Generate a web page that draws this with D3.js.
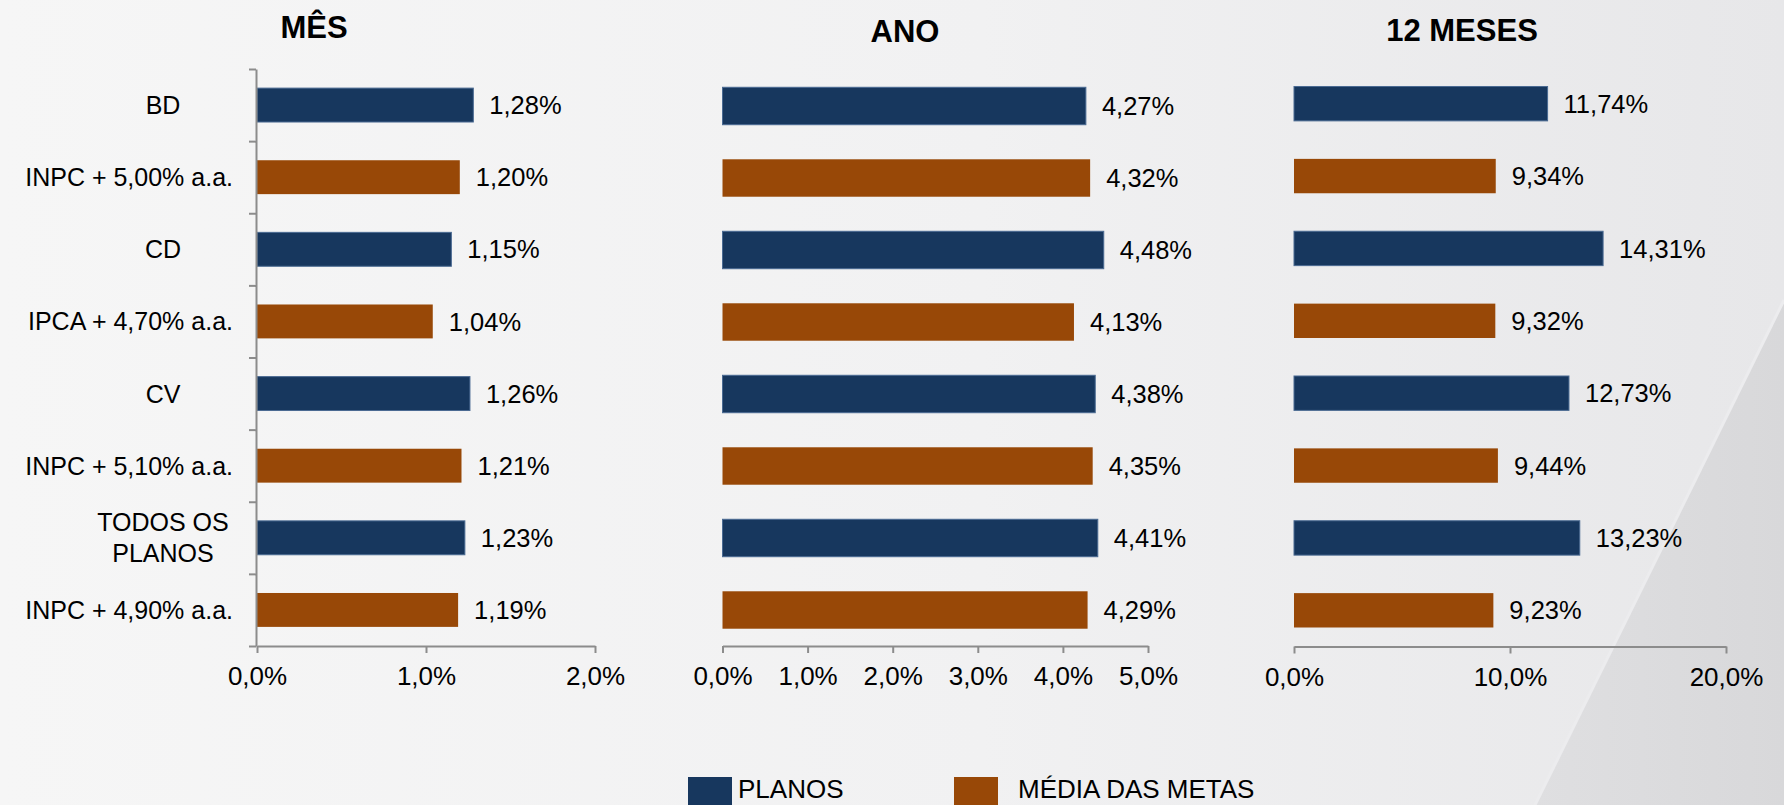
<!DOCTYPE html>
<html>
<head>
<meta charset="utf-8">
<script src="https://cdn.jsdelivr.net/npm/d3@7"></script>
<style>
  html, body { margin: 0; padding: 0; overflow: hidden; }
  svg { display: block; font-family: "Liberation Sans", Arial, sans-serif; }
</style>
</head>
<body>
<div class="chart"></div>
<script>
// categorias (eixo vertical) e séries
const categories = ["BD", "INPC + 5,00% a.a.", "CD", "IPCA + 4,70% a.a.", "CV", "INPC + 5,10% a.a.", "TODOS OS\nPLANOS", "INPC + 4,90% a.a."];
const seriesOf = ["PLANOS", "MÉDIA DAS METAS", "PLANOS", "MÉDIA DAS METAS", "PLANOS", "MÉDIA DAS METAS", "PLANOS", "MÉDIA DAS METAS"];
const seriesNames = ["PLANOS", "MÉDIA DAS METAS"];

// valores em %
const mesValues = [1.28, 1.20, 1.15, 1.04, 1.26, 1.21, 1.23, 1.19];
const anoValues = [4.27, 4.32, 4.48, 4.13, 4.38, 4.35, 4.41, 4.29];
const meses12Values = [11.74, 9.34, 14.31, 9.32, 12.73, 9.44, 13.23, 9.23];

// ticks
const mesTicks = [0, 1, 2];
const anoTicks = [0, 1, 2, 3, 4, 5];
const meses12Ticks = [0, 10, 20];

const titles = ["MÊS", "ANO", "12 MESES"];

const W = 1784, H = 805;
const colors = { "PLANOS": "#17375e", "MÉDIA DAS METAS": "#984807" };

// formato brasileiro (vírgula decimal)
const ptBR = d3.formatLocale({ decimal: ",", thousands: ".", grouping: [3], currency: ["R$", ""] });
const fmt2 = v => ptBR.format(".2f")(v) + "%";
const fmt1 = v => ptBR.format(".1f")(v) + "%";

const svg = d3.select("div.chart")
  .append("svg")
  .attr("width", W)
  .attr("height", H);

// fundo do slide
const defs = svg.append("defs");
const bg = defs.append("linearGradient").attr("id", "bg").attr("x1", 0).attr("x2", 1).attr("y1", 0).attr("y2", 0);
bg.append("stop").attr("offset", "0%").attr("stop-color", "#f6f6f6");
bg.append("stop").attr("offset", "55%").attr("stop-color", "#f1f1f2");
bg.append("stop").attr("offset", "100%").attr("stop-color", "#e7e7e9");
const swoosh = defs.append("linearGradient").attr("id", "swoosh").attr("x1", 0).attr("x2", 1).attr("y1", 0).attr("y2", 0);
swoosh.append("stop").attr("offset", "0%").attr("stop-color", "#dfdfe1");
swoosh.append("stop").attr("offset", "100%").attr("stop-color", "#d8d8da");

svg.append("rect").attr("width", W).attr("height", H).attr("fill", "url(#bg)");
svg.append("path")
  .attr("d", "M1784,300 L1784,805 L1535,805 Z")
  .attr("fill", "url(#swoosh)");
svg.append("path")
  .attr("d", "M1784,300 L1535,805")
  .attr("stroke", "#ececee").attr("stroke-width", 3).attr("fill", "none");

// configuração dos três painéis
const panels = [
  { title: titles[0], values: mesValues, ticks: mesTicks, max: 2, x: [257, 595], y: [69, 646], pad: 0.53, titleX: 314, titleY: 38, yAxis: true },
  { title: titles[1], values: anoValues, ticks: anoTicks, max: 5, x: [722.5, 1148], y: [70, 646], pad: 0.48, titleX: 905, titleY: 42, yAxis: false },
  { title: titles[2], values: meses12Values, ticks: meses12Ticks, max: 20, x: [1294, 1726], y: [67.5, 646.5], pad: 0.525, titleX: 1462, titleY: 41, yAxis: false }
];

panels.forEach(p => {
  const x = d3.scaleLinear().domain([0, p.max]).range(p.x);
  const y = d3.scaleBand()
    .domain(d3.range(categories.length))
    .range(p.y)
    .paddingInner(p.pad)
    .paddingOuter(p.pad / 2);

  const g = svg.append("g");

  g.append("text")
    .attr("x", p.titleX)
    .attr("y", p.titleY)
    .attr("text-anchor", "middle")
    .attr("font-size", 31)
    .attr("font-weight", "bold")
    .attr("fill", "#000")
    .text(p.title);

  // barras
  g.selectAll("rect.bar")
    .data(p.values)
    .enter()
    .append("rect")
    .attr("class", "bar")
    .attr("x", x(0))
    .attr("y", (d, i) => y(i))
    .attr("width", d => x(d) - x(0))
    .attr("height", y.bandwidth())
    .attr("fill", (d, i) => colors[seriesOf[i]])
    .attr("stroke", (d, i) => seriesOf[i] === "PLANOS" ? "#4a6a92" : "none")
    .attr("stroke-width", 1);

  // rótulos de dados
  g.selectAll("text.val")
    .data(p.values)
    .enter()
    .append("text")
    .attr("class", "val")
    .attr("x", d => x(d) + 16)
    .attr("y", (d, i) => y(i) + y.bandwidth() / 2)
    .attr("dy", "0.36em")
    .attr("font-size", 25.5)
    .attr("fill", "#000")
    .text(d => fmt2(d));

  // eixo x
  const xAxis = g.append("g")
    .attr("transform", `translate(0,${p.y[1]})`)
    .call(d3.axisBottom(x).tickValues(p.ticks).tickFormat(fmt1).tickSize(7).tickSizeOuter(0).tickPadding(14));
  xAxis.select(".domain").attr("stroke", "#8c8c8c").attr("stroke-width", 2);
  xAxis.selectAll(".tick line").attr("stroke", "#8c8c8c").attr("stroke-width", 2);
  xAxis.selectAll(".tick text").attr("font-size", 26).attr("fill", "#000").attr("font-family", "Liberation Sans, Arial, sans-serif");

  if (p.yAxis) {
    // eixo y com marcas entre categorias
    const yl = d3.scaleLinear().domain([0, categories.length]).range(p.y);
    const yAxis = g.append("g")
      .attr("transform", `translate(${x(0) - 1},0)`)
      .call(d3.axisLeft(yl).ticks(categories.length).tickFormat("").tickSize(7).tickSizeOuter(0));
    yAxis.select(".domain").attr("stroke", "#8c8c8c").attr("stroke-width", 2);
    yAxis.selectAll(".tick line").attr("stroke", "#8c8c8c").attr("stroke-width", 2);

    // rótulos das categorias: centrados, mas sem passar do limite direito
    const labelCenter = 163, maxRight = 233;
    categories.forEach((c, i) => {
      const lines = c.split("\n");
      const cy = y(i) + y.bandwidth() / 2;
      const t = g.append("text")
        .attr("font-size", 25)
        .attr("fill", "#000")
        .attr("text-anchor", "middle");
      lines.forEach((ln, k) => {
        t.append("tspan")
          .attr("x", labelCenter)
          .attr("y", cy + (k - (lines.length - 1) / 2) * 31)
          .attr("dy", "0.36em")
          .text(ln);
      });
      const w = t.node().getBBox().width;
      if (labelCenter + w / 2 > maxRight) {
        t.selectAll("tspan").attr("x", maxRight - w / 2);
      }
    });
  }
});

// legenda
const legend = svg.append("g");
const legendX = [688, 954];
seriesNames.forEach((s, i) => {
  legend.append("rect")
    .attr("x", legendX[i])
    .attr("y", 777)
    .attr("width", 44)
    .attr("height", 44)
    .attr("fill", colors[s]);
  legend.append("text")
    .attr("x", legendX[i] + (i === 0 ? 50 : 64))
    .attr("y", 798)
    .attr("font-size", 26)
    .attr("fill", "#000")
    .text(s);
});
</script>
</body>
</html>
